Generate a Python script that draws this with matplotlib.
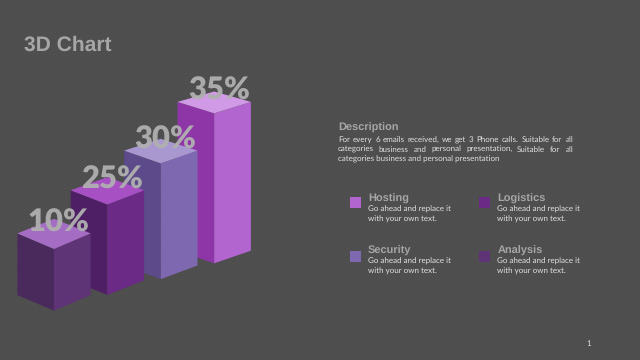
import numpy as np
import matplotlib
matplotlib.use("Agg")
import matplotlib.pyplot as plt
from matplotlib.patches import Polygon

plt.rcParams["text.hinting"] = "no_hinting"
plt.rcParams["text.hinting_factor"] = 1

labels = ["10%", "25%", "30%", "35%"]
column_heights = [61.7, 90.4, 115.7, 150.0]
left_colors = ["#4a2a5c", "#4f1f66", "#5c4a8a", "#8e36a8"]
right_colors = ["#5e3477", "#6b2a85", "#7e68b0", "#b264cf"]
top_colors = ["#a46cc2", "#a650c4", "#a998cf", "#d09ae6"]

legend_names = ["Hosting", "Logistics", "Security", "Analysis"]
legend_colors = ["#b264cf", "#6b2a85", "#7e68b0", "#5e3477"]
legend_text = ["Go ahead and replace it", "with your own text."]

desc_lines = [
    "For every 6 emails received, we get 3 Phone calls. Suitable for all",
    "categories business and personal presentation, Suitable for all",
    "categories business and personal presentation",
]

BG = "#505050"
GREY = "#a6a6a6"
BODY = "#e0e0e0"

fig = plt.figure(figsize=(6.4, 3.6), dpi=100, facecolor=BG)
ax = fig.add_axes([0, 0, 1, 1])
ax.set_xlim(0, 640)
ax.set_ylim(360, 0)
ax.axis("off")

# faint dotted texture of the slide background
yy, xx = np.mgrid[0:360, 0:640]
texture = 0.30 + 0.025 * ((xx + yy) % 3 == 0)
ax.imshow(texture, cmap="gray", vmin=0, vmax=1, extent=(0, 640, 360, 0),
          interpolation="nearest", aspect="auto", zorder=0)


def draw_column(i):
    cx = 54 + 53.4 * i
    base = 310.7 - 15.8 * i
    top = base - column_heights[i]
    half = 36.7
    side = 15.6 - 1.0 * i      # drop from front corner to side corner, bottom
    tside = 15.6 - 1.4 * i     # same thing at the top, perspective flattens it
    z = 2 - i * 0.1            # first column stands in front
    ax.add_patch(Polygon([(cx - half, base - side), (cx, base), (cx, top), (cx - half, top - tside)],
                         fc=left_colors[i], ec="none", zorder=z))
    ax.add_patch(Polygon([(cx, base), (cx + half, base - side), (cx + half, top - tside), (cx, top)],
                         fc=right_colors[i], ec="none", zorder=z))
    ax.add_patch(Polygon([(cx - half, top - tside), (cx, top), (cx + half, top - tside), (cx, top - 2 * tside + 1)],
                         fc=top_colors[i], ec="none", zorder=z))
    ax.text(cx + 4.5, top - tside - 11, labels[i], family="Lato", weight="heavy", fontsize=22.3,
            color="#b0b0b0", alpha=0.95, ha="center", va="center", zorder=5)


def justify(line, x0, x1, y, **kw):
    # words are placed one at a time so both edges line up
    words = line.split(" ")
    renderer = fig.canvas.get_renderer()
    items = [ax.text(0, y, w, ha="left", va="baseline", **kw) for w in words]
    widths = [t.get_window_extent(renderer).width for t in items]
    gap = (x1 - x0 - sum(widths)) / (len(words) - 1)
    x = x0
    for t, w in zip(items, widths):
        t.set_x(x)
        x += w + gap


for i in range(len(labels)):
    draw_column(i)

ax.text(24, 45, "3D Chart", family="Liberation Sans", weight="bold", fontsize=15,
        color=GREY, va="center")

ax.text(338, 127.5, "Description", family="Liberation Sans", weight="bold", fontsize=7.8,
        color=GREY, va="center")
justify(desc_lines[0], 338, 573, 142, family="Lato", fontsize=5.6, color=BODY)
justify(desc_lines[1], 338, 573, 151.7, family="Lato", fontsize=5.6, color=BODY)
ax.text(338, 159, desc_lines[2], family="Lato", fontsize=5.6, color=BODY, va="center")

legend_x = [350, 479.3]
swatch_y = [202.3, 256.7]
name_y = [198.5, 250.5]
line_y = [(209.3, 219.3), (261.7, 271)]
for i, name in enumerate(legend_names):
    sx = legend_x[i % 2]
    row = i // 2
    sy = swatch_y[row]
    ax.add_patch(Polygon([(sx, sy - 5.5), (sx + 11, sy - 5.5), (sx + 11, sy + 5.5), (sx, sy + 5.5)],
                         fc=legend_colors[i], ec="none", zorder=2))
    ax.text(sx + 18, name_y[row], name, family="Liberation Sans", weight="bold", fontsize=7.8,
            color=GREY, va="center")
    ax.text(sx + 18, line_y[row][0], legend_text[0], family="Lato", fontsize=5.6, color=BODY, va="center")
    ax.text(sx + 18, line_y[row][1], legend_text[1], family="Lato", fontsize=5.6, color=BODY, va="center")

ax.text(589, 344, "1", family="Lato", fontsize=6, color=BODY, ha="center", va="center")

fig.savefig("out.png", dpi=100, facecolor=BG)
